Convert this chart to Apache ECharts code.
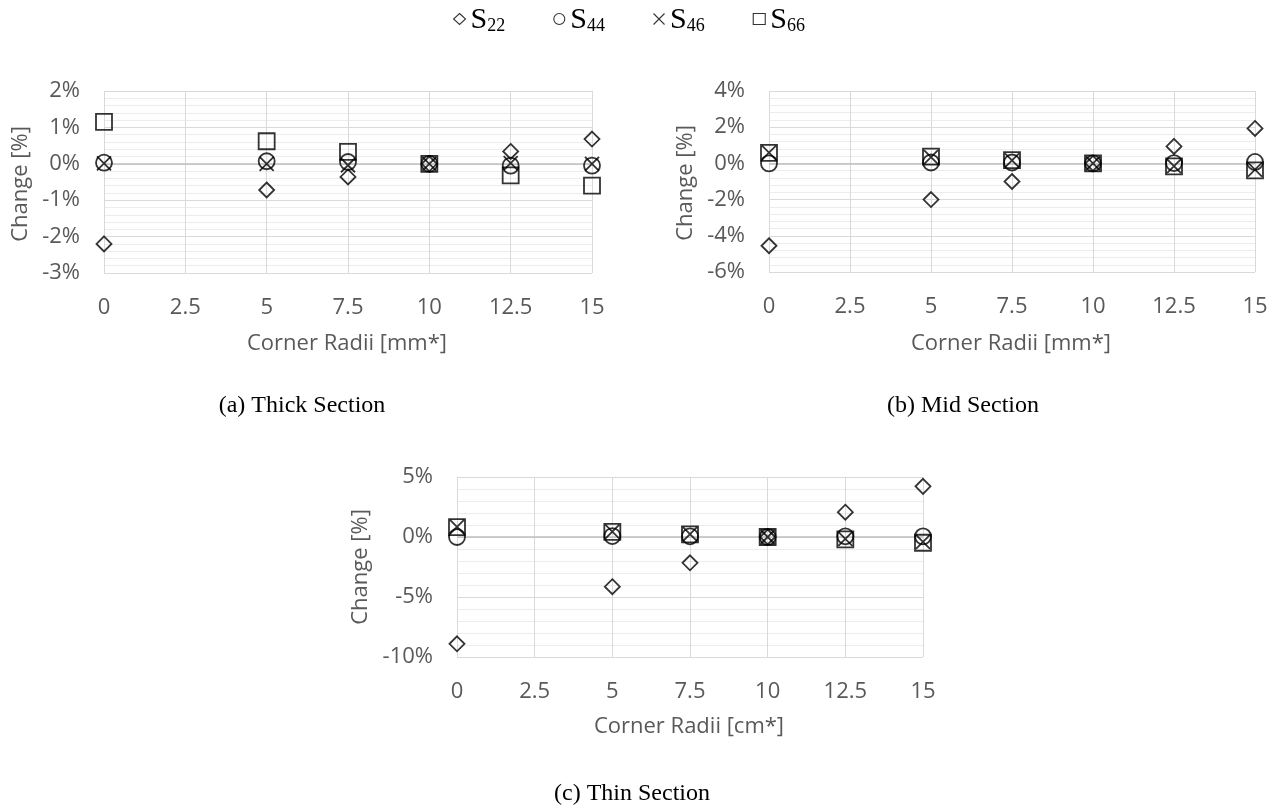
<!DOCTYPE html>
<html>
<head>
<meta charset="utf-8">
<script src="https://cdn.jsdelivr.net/npm/echarts@6/dist/echarts.min.js"></script>
<style>
html,body{margin:0;padding:0;background:#fff;}
#c{width:1278px;height:805px;}
</style>
</head>
<body>
<div id="c"></div>
<script>
// ---- data ----
const radii = [0, 5, 7.5, 10, 12.5, 15];
const seriesNames = ['S22', 'S44', 'S46', 'S66'];

const thickS22 = [-2.2, -0.72, -0.36, 0, 0.34, 0.68];
const thickS44 = [0.03, 0.07, 0.05, 0, -0.05, -0.05];
const thickS46 = [0.01, 0.0, -0.04, 0, 0.02, 0.0];
const thickS66 = [1.15, 0.62, 0.33, 0, -0.32, -0.6];

const midS22 = [-4.55, -2.0, -1.0, 0, 0.94, 1.93];
const midS44 = [0.0, 0.05, 0.05, 0, 0.02, 0.08];
const midS46 = [0.6, 0.35, 0.17, 0, -0.15, -0.35];
const midS66 = [0.58, 0.37, 0.18, 0, -0.16, -0.38];

const thinS22 = [-8.9, -4.14, -2.15, 0, 2.07, 4.22];
const thinS44 = [0.0, 0.08, 0.06, 0, 0.06, 0.05];
const thinS46 = [0.85, 0.45, 0.24, 0, -0.15, -0.4];
const thinS66 = [0.82, 0.42, 0.22, 0, -0.2, -0.48];

const yRanges = [[-3, 2, 1], [-6, 4, 2], [-10, 5, 5]];
const xTitles = ['Corner Radii [mm*]', 'Corner Radii [mm*]', 'Corner Radii [cm*]'];
const yTitle = 'Change [%]';
const captions = ['(a) Thick Section', '(b) Mid Section', '(c) Thin Section'];

const panels = [
  [thickS22, thickS44, thickS46, thickS66],
  [midS22, midS44, midS46, midS66],
  [thinS22, thinS44, thinS46, thinS66]
];

// ---- layout ----
const grids = [
  {left: 104, top: 91, width: 488, height: 182},
  {left: 769, top: 91, width: 486, height: 181},
  {left: 457, top: 477, width: 466, height: 180}
];

const symbols = ['diamond', 'circle', 'path://M0,0L10,10M10,0L0,10', 'rect'];
const symbolSizes = [[15, 15], 16, 14, 16];

const tickFont = {fontFamily: 'Open Sans', fontSize: 22, color: '#595959'};

const option = {
  animation: false,
  backgroundColor: '#fff',
  legend: {
    data: seriesNames,
    left: 448,
    top: 0,
    itemWidth: 12,
    itemHeight: 11,
    itemGap: 48,
    itemStyle: {borderWidth: 1.1},
    formatter: function (n) { return '{s|S}{n|' + n.slice(1) + '}'; },
    textStyle: {
      rich: {
        s: {fontFamily: 'Liberation Serif', fontSize: 30, color: '#000', lineHeight: 32, verticalAlign: 'bottom'},
        n: {fontFamily: 'Liberation Serif', fontSize: 18, color: '#000', lineHeight: 22, verticalAlign: 'bottom'}
      }
    }
  },
  grid: grids.map(g => Object.assign({containLabel: false}, g)),
  xAxis: grids.map((g, i) => ({
    type: 'value', gridIndex: i, min: 0, max: 15, interval: 2.5,
    axisLine: {show: false}, axisTick: {show: false},
    axisLabel: Object.assign({margin: 24}, tickFont),
    splitLine: {show: true, lineStyle: {color: '#d9d9d9', width: 1}}
  })),
  yAxis: grids.map((g, i) => ({
    type: 'value', gridIndex: i, min: yRanges[i][0], max: yRanges[i][1], interval: yRanges[i][2],
    axisLine: {show: false}, axisTick: {show: false},
    minorTick: {show: false, splitNumber: 5},
    minorSplitLine: {show: true, lineStyle: {color: '#ececec', width: 1}},
    axisLabel: Object.assign({margin: 24, formatter: '{value}%'}, tickFont),
    splitLine: {show: true, lineStyle: {color: '#d9d9d9', width: 1}}
  })),
  series: [],
  graphic: []
};

panels.forEach((vals, p) => {
  vals.forEach((arr, s) => {
    const ser = {
      name: seriesNames[s],
      type: 'scatter',
      xAxisIndex: p, yAxisIndex: p,
      symbol: symbols[s],
      symbolSize: symbolSizes[s],
      itemStyle: {color: 'rgba(0,0,0,0)', borderColor: '#000', borderWidth: 1.8},
      emphasis: {disabled: true},
      data: radii.map((x, k) => [x, arr[k]]),
      z: 3
    };
    if (s === 0) {
      ser.markLine = {
        silent: true, symbol: 'none', label: {show: false},
        lineStyle: {color: '#bfbfbf', width: 1.5, type: 'solid'},
        data: [{yAxis: 0}],
        z: 1
      };
    }
    option.series.push(ser);
  });
});

// axis titles and captions
const xTitlePos = [[347, 344], [1011, 344], [689, 727]];
const yTitlePos = [[21, 184], [686, 183], [361, 567]];
const capPos = [[302, 406], [963, 406], [632, 794]];
for (let i = 0; i < 3; i++) {
  option.graphic.push({
    type: 'text', x: xTitlePos[i][0], y: xTitlePos[i][1],
    style: {text: xTitles[i], fill: '#595959', font: '22px "Open Sans"', textAlign: 'center', textVerticalAlign: 'middle'}
  });
  option.graphic.push({
    type: 'text', x: yTitlePos[i][0], y: yTitlePos[i][1], rotation: Math.PI / 2,
    style: {text: yTitle, fill: '#595959', font: '22px "Open Sans"', textAlign: 'center', textVerticalAlign: 'middle'}
  });
  option.graphic.push({
    type: 'text', x: capPos[i][0], y: capPos[i][1],
    style: {text: captions[i], fill: '#000', font: '24px "Liberation Serif"', textAlign: 'center', textVerticalAlign: 'middle'}
  });
}

const chart = echarts.init(document.getElementById('c'));
chart.setOption(option);
</script>
</body>
</html>
